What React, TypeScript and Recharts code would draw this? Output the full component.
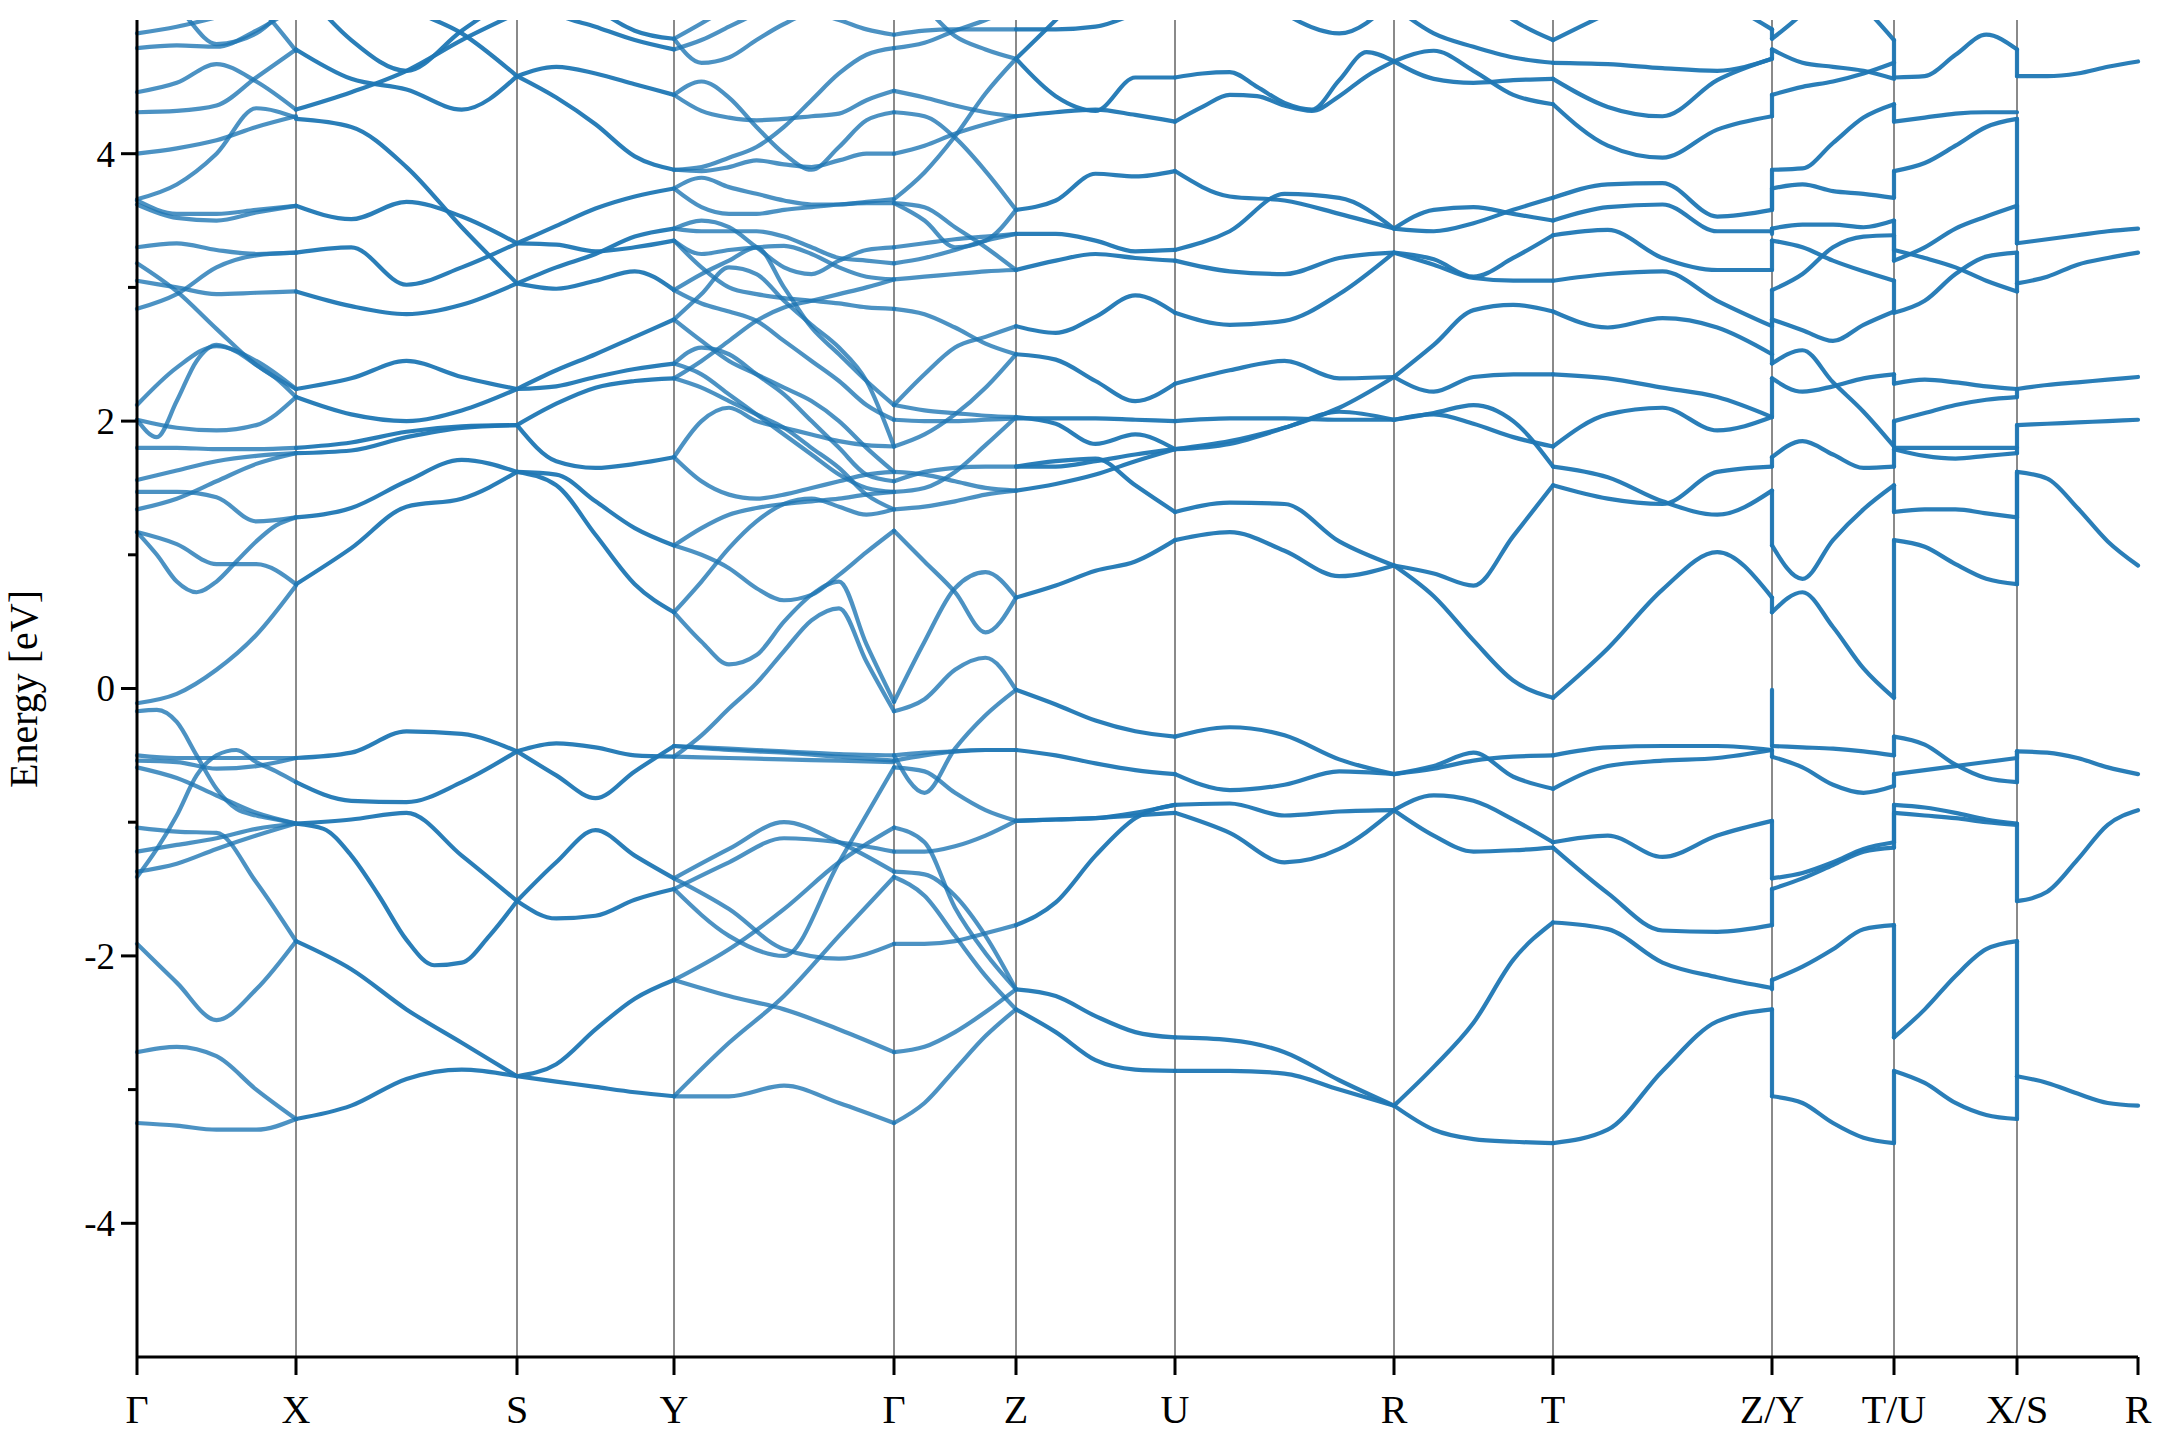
import React from 'react'
import { LineChart, Line, XAxis, YAxis, ReferenceLine } from 'recharts'

// distance along the k-path of every high-symmetry point
const kPoints = [0, 159, 380, 537, 757, 879, 1038, 1257, 1416, 1635, 1757, 1880, 2001]
const kLabels = ['Γ', 'X', 'S', 'Y', 'Γ', 'Z', 'U', 'R', 'T', 'Z/Y', 'T/U', 'X/S', 'R']
const energyTicks = [-4, -3, -2, -1, 0, 1, 2, 3, 4]

// each row: band energies (eV) at evenly spaced k between two labels
const gammaX = [
  [4.9, 4.95, 5.02, 5.1, 5.2],
  [4.79, 4.81, 4.8, 4.92, 5.1],
  [5.3, 5.1, 4.82, 4.9, 5.2],
  [5.6, 5.5, 5.35, 5.12, 4.77],
  [4.46, 4.53, 4.67, 4.54, 4.33],
  [4.31, 4.32, 4.36, 4.57, 4.78],
  [4.0, 4.04, 4.1, 4.2, 4.28],
  [3.66, 3.77, 4.0, 4.34, 4.27],
  [3.65, 3.55, 3.55, 3.58, 3.61],
  [3.62, 3.52, 3.5, 3.56, 3.61],
  [3.3, 3.33, 3.28, 3.25, 3.26],
  [3.18, 2.97, 2.69, 2.42, 2.24],
  [3.05, 3.0, 2.95, 2.96, 2.97],
  [2.84, 2.95, 3.15, 3.24, 3.26],
  [2.12, 2.4, 2.56, 2.45, 2.24],
  [2.01, 1.88, 2.15, 2.45, 2.57, 2.52, 2.42, 2.32, 2.18],
  [2.01, 1.95, 1.93, 1.97, 2.18],
  [1.8, 1.8, 1.79, 1.79, 1.8],
  [1.56, 1.63, 1.7, 1.74, 1.76],
  [1.47, 1.47, 1.43, 1.25, 1.28],
  [1.34, 1.42, 1.55, 1.68, 1.76],
  [1.17, 1.08, 0.93, 0.93, 0.78],
  [1.17, 1.0, 0.8, 0.72, 0.8, 0.95, 1.1, 1.22, 1.28],
  [-0.11, -0.04, 0.14, 0.4, 0.77],
  [-0.5, -0.52, -0.52, -0.52, -0.52],
  [-0.54, -0.55, -0.6, -0.58, -0.52],
  [-0.59, -0.67, -0.8, -0.93, -1.01],
  [-1.41, -1.2, -0.95, -0.65, -0.5, -0.46, -0.55, -0.62, -0.7],
  [-0.17, -0.16, -0.25, -0.5, -0.75, -0.9, -0.95, -0.98, -1.01],
  [-1.04, -1.07, -1.08, -1.45, -1.89],
  [-1.22, -1.17, -1.12, -1.05, -1.01],
  [-1.37, -1.31, -1.2, -1.1, -1.01],
  [-1.91, -2.2, -2.48, -2.25, -1.89],
  [-2.72, -2.68, -2.75, -3.0, -3.22],
  [-3.25, -3.27, -3.3, -3.3, -3.22],
]

const xS = [
  [4.78, 4.56, 4.48, 4.33, 4.58],
  [4.33, 4.46, 4.62, 4.85, 5.05],
  [5.3, 4.85, 4.62, 4.92, 5.2],
  [5.6, 5.4, 5.1, 4.9, 4.58],
  [4.26, 4.2, 3.9, 3.45, 3.03],
  [3.61, 3.51, 3.64, 3.53, 3.33],
  [3.26, 3.3, 3.02, 3.15, 3.33],
  [2.97, 2.86, 2.8, 2.87, 3.03],
  [2.24, 2.32, 2.45, 2.33, 2.24],
  [2.18, 2.05, 2.0, 2.08, 2.24],
  [1.8, 1.84, 1.92, 1.96, 1.97],
  [1.76, 1.78, 1.88, 1.95, 1.97],
  [1.28, 1.35, 1.55, 1.71, 1.62],
  [0.78, 1.05, 1.36, 1.42, 1.62],
  [-0.52, -0.48, -0.32, -0.34, -0.47],
  [-0.7, -0.84, -0.85, -0.7, -0.47],
  [-1.01, -1.05, -1.25, -1.55, -1.88, -2.07, -2.05, -1.85, -1.59],
  [-1.89, -2.1, -2.4, -2.65, -2.9],
  [-3.22, -3.12, -2.92, -2.85, -2.9],
  [-1.01, -0.98, -0.93, -1.25, -1.59],
]

const sY = [
  [4.58, 4.65, 4.6, 4.52, 4.44],
  [4.58, 4.42, 4.22, 3.98, 3.88],
  [5.3, 5.05, 4.95, 4.85, 4.78],
  [5.6, 5.4, 5.1, 4.92, 4.86],
  [3.33, 3.46, 3.59, 3.68, 3.74],
  [3.33, 3.32, 3.27, 3.3, 3.35],
  [3.03, 3.15, 3.25, 3.38, 3.44],
  [3.03, 2.99, 3.05, 3.12, 2.98],
  [2.24, 2.38, 2.5, 2.63, 2.76],
  [2.24, 2.26, 2.33, 2.39, 2.43],
  [1.97, 1.7, 1.65, 1.68, 1.73],
  [1.97, 2.13, 2.25, 2.3, 2.32],
  [1.62, 1.6, 1.4, 1.2, 1.07],
  [1.62, 1.52, 1.15, 0.78, 0.57],
  [-0.47, -0.41, -0.44, -0.5, -0.51],
  [-0.47, -0.65, -0.82, -0.62, -0.43],
  [-1.59, -1.3, -1.06, -1.25, -1.42],
  [-1.59, -1.72, -1.7, -1.58, -1.5],
  [-2.9, -2.81, -2.55, -2.32, -2.18],
  [-2.9, -2.94, -2.98, -3.02, -3.05],
]

const yGamma = [
  [4.86, 5.1, 5.4, 5.6, 5.8],
  [4.86, 4.68, 4.72, 4.85, 4.97, 5.05, 5.0, 4.93, 4.89],
  [4.78, 4.85, 4.95, 5.05, 5.15, 5.2, 5.2, 5.2, 5.2],
  [4.44, 4.54, 4.42, 4.2, 4.0, 3.88, 4.05, 4.25, 4.31],
  [4.44, 4.32, 4.27, 4.25, 4.26, 4.28, 4.3, 4.4, 4.47],
  [3.88, 3.9, 3.97, 4.05, 4.2, 4.4, 4.6, 4.74, 4.79],
  [3.88, 3.87, 3.9, 3.95, 3.92, 3.9, 3.95, 4.0, 4.0],
  [3.74, 3.82, 3.75, 3.7, 3.65, 3.62, 3.62, 3.64, 3.66],
  [3.74, 3.6, 3.55, 3.55, 3.58, 3.6, 3.62, 3.63, 3.63],
  [3.44, 3.42, 3.42, 3.42, 3.38, 3.3, 3.22, 3.2, 3.18],
  [3.44, 3.5, 3.45, 3.3, 3.15, 3.1, 3.2, 3.28, 3.3],
  [3.35, 3.25, 3.28, 3.3, 3.31, 3.25, 3.15, 3.08, 3.06],
  [3.35, 3.15, 3.0, 2.95, 2.92, 2.9, 2.88, 2.85, 2.84],
  [2.98, 3.1, 3.2, 3.3, 3.0, 2.7, 2.5, 2.3, 2.12],
  [2.98, 2.88, 2.82, 2.75, 2.6, 2.45, 2.3, 2.12, 2.01],
  [2.76, 2.95, 3.15, 3.1, 2.9, 2.72, 2.55, 2.3, 1.81],
  [2.76, 2.6, 2.45, 2.35, 2.25, 2.15, 2.0, 1.8, 1.62],
  [2.43, 2.55, 2.5, 2.35, 2.2, 2.0, 1.8, 1.6, 1.55],
  [2.43, 2.35, 2.2, 2.05, 1.9, 1.75, 1.6, 1.5, 1.47],
  [2.32, 2.25, 2.15, 2.05, 1.95, 1.8, 1.65, 1.45, 1.34],
  [2.32, 2.45, 2.6, 2.75, 2.85, 2.9, 2.95, 3.0, 3.06],
  [1.07, 1.2, 1.3, 1.35, 1.38, 1.4, 1.42, 1.45, 1.47],
  [1.07, 1.0, 0.9, 0.75, 0.66, 0.7, 0.85, 1.02, 1.18],
  [0.57, 0.8, 1.05, 1.25, 1.38, 1.42, 1.36, 1.3, 1.34],
  [1.73, 2.0, 2.1, 2.0, 1.95, 1.9, 1.85, 1.82, 1.81],
  [1.73, 1.55, 1.45, 1.42, 1.45, 1.5, 1.55, 1.6, 1.62],
  [0.57, 0.35, 0.18, 0.25, 0.5, 0.7, 0.8, 0.33, -0.1],
  [-0.51, -0.35, -0.15, 0.04, 0.28, 0.51, 0.6, 0.2, -0.17],
  [-0.43, -0.45, -0.47, -0.49, -0.5],
  [-0.43, -0.46, -0.48, -0.51, -0.54],
  [-0.51, -0.52, -0.53, -0.54, -0.55],
  [-1.42, -1.65, -1.95, -2.02, -1.91],
  [-1.5, -1.85, -2.0, -1.3, -0.59],
  [-1.42, -1.2, -1.0, -1.15, -1.37],
  [-1.5, -1.3, -1.12, -1.15, -1.22],
  [-2.18, -1.95, -1.65, -1.3, -1.04],
  [-2.18, -2.3, -2.4, -2.55, -2.72],
  [-3.05, -3.05, -2.97, -3.1, -3.25],
  [-3.05, -2.65, -2.3, -1.85, -1.41],
]

const gammaZ = [
  [4.89, 4.92, 4.93, 4.93, 4.93],
  [4.79, 4.83, 4.92, 5.0, 5.1],
  [5.3, 5.1, 4.88, 4.78, 4.71],
  [4.47, 4.42, 4.36, 4.31, 4.28],
  [4.31, 4.28, 4.12, 3.87, 3.58],
  [4.0, 4.06, 4.15, 4.22, 4.28],
  [3.66, 3.86, 4.13, 4.45, 4.71],
  [3.63, 3.6, 3.45, 3.3, 3.13],
  [3.63, 3.5, 3.3, 3.35, 3.58],
  [3.3, 3.33, 3.36, 3.38, 3.4],
  [3.18, 3.22, 3.28, 3.35, 3.4],
  [3.06, 3.08, 3.1, 3.12, 3.13],
  [2.84, 2.8, 2.7, 2.58, 2.5],
  [2.12, 2.35, 2.55, 2.63, 2.71],
  [2.12, 2.08, 2.06, 2.04, 2.03],
  [2.01, 2.0, 2.0, 2.01, 2.02],
  [1.81, 1.9, 2.05, 2.25, 2.5],
  [1.62, 1.6, 1.55, 1.5, 1.48],
  [1.55, 1.62, 1.65, 1.66, 1.66],
  [1.47, 1.5, 1.62, 1.82, 2.03],
  [1.34, 1.36, 1.4, 1.45, 1.48],
  [1.18, 0.95, 0.72, 0.42, 0.68],
  [-0.1, 0.35, 0.75, 0.87, 0.68],
  [-0.17, -0.08, 0.14, 0.23, -0.01],
  [-0.5, -0.48, -0.47, -0.46, -0.46],
  [-0.54, -0.5, -0.47, -0.46, -0.46],
  [-0.59, -0.62, -0.78, -0.91, -0.99],
  [-0.5, -0.78, -0.45, -0.2, -0.01],
  [-1.04, -1.15, -1.64, -1.98, -2.25],
  [-1.22, -1.22, -1.18, -1.1, -0.99],
  [-1.37, -1.39, -1.55, -1.85, -2.25],
  [-1.41, -1.55, -1.85, -2.15, -2.4],
  [-1.91, -1.91, -1.89, -1.83, -1.77],
  [-2.72, -2.68, -2.57, -2.42, -2.25],
  [-3.25, -3.1, -2.85, -2.6, -2.4],
]

const zU = [
  [4.93, 4.93, 4.95, 5.05, 5.2],
  [4.71, 5.0, 5.3, 5.5, 5.6],
  [4.71, 4.43, 4.32, 4.57, 4.57],
  [4.28, 4.31, 4.33, 4.29, 4.24],
  [3.58, 3.65, 3.85, 3.83, 3.87],
  [3.4, 3.4, 3.35, 3.27, 3.28],
  [3.13, 3.2, 3.25, 3.22, 3.2],
  [2.71, 2.66, 2.78, 2.94, 2.81],
  [2.5, 2.46, 2.3, 2.15, 2.28],
  [2.03, 1.98, 1.83, 1.9, 1.79],
  [2.02, 2.02, 2.02, 2.01, 2.0],
  [1.66, 1.66, 1.7, 1.75, 1.79],
  [1.48, 1.53, 1.6, 1.7, 1.79],
  [1.66, 1.7, 1.72, 1.52, 1.32],
  [0.68, 0.77, 0.88, 0.95, 1.11],
  [-0.01, -0.12, -0.24, -0.32, -0.36],
  [-0.46, -0.5, -0.56, -0.61, -0.64],
  [-0.99, -0.98, -0.97, -0.93, -0.87],
  [-0.99, -0.98, -0.97, -0.95, -0.93],
  [-1.77, -1.6, -1.25, -0.97, -0.87],
  [-2.25, -2.3, -2.45, -2.57, -2.61],
  [-2.4, -2.57, -2.78, -2.85, -2.86],
]

const uR = [
  [4.57, 4.6, 4.61, 4.5, 4.38, 4.33, 4.55, 4.76, 4.69],
  [4.24, 4.35, 4.44, 4.43, 4.36, 4.32, 4.43, 4.58, 4.69],
  [5.6, 5.4, 5.05, 4.9, 5.15],
  [3.87, 3.68, 3.65, 3.55, 3.44],
  [3.28, 3.42, 3.7, 3.67, 3.44],
  [3.2, 3.12, 3.1, 3.22, 3.26],
  [2.81, 2.72, 2.75, 2.95, 3.26],
  [2.28, 2.38, 2.45, 2.32, 2.33],
  [2.0, 2.02, 2.02, 2.01, 2.01],
  [1.79, 1.85, 1.95, 2.07, 2.01],
  [1.79, 1.83, 1.95, 2.1, 2.33],
  [1.32, 1.39, 1.38, 1.1, 0.92],
  [1.11, 1.17, 1.03, 0.84, 0.92],
  [-0.36, -0.29, -0.35, -0.53, -0.64],
  [-0.64, -0.76, -0.72, -0.62, -0.64],
  [-0.87, -0.86, -0.95, -0.92, -0.91],
  [-0.93, -1.08, -1.3, -1.2, -0.91],
  [-2.61, -2.63, -2.72, -2.93, -3.12],
  [-2.86, -2.86, -2.88, -3.0, -3.12],
]

const rT = [
  [5.1, 4.9, 4.8, 4.72, 4.68],
  [5.7, 5.5, 5.25, 5.0, 4.85],
  [4.69, 4.77, 4.62, 4.44, 4.37],
  [4.69, 4.56, 4.53, 4.55, 4.56],
  [3.44, 3.58, 3.6, 3.55, 3.5],
  [3.44, 3.42, 3.48, 3.58, 3.67],
  [3.26, 3.21, 3.08, 3.22, 3.39],
  [3.26, 3.17, 3.07, 3.05, 3.05],
  [2.33, 2.57, 2.83, 2.87, 2.82],
  [2.33, 2.22, 2.33, 2.35, 2.35],
  [2.01, 2.06, 2.12, 2.0, 1.66],
  [2.01, 2.05, 1.98, 1.88, 1.81],
  [0.92, 0.86, 0.77, 1.14, 1.52],
  [-0.64, -0.58, -0.48, -0.66, -0.75],
  [-0.64, -0.6, -0.54, -0.51, -0.5],
  [-0.91, -0.8, -0.84, -0.98, -1.15],
  [-0.91, -1.1, -1.22, -1.21, -1.19],
  [-3.12, -2.83, -2.5, -2.03, -1.75],
  [-3.12, -3.3, -3.37, -3.39, -3.4],
  [0.92, 0.69, 0.36, 0.06, -0.07],
]

const tZ = [
  [4.85, 5.05, 5.25, 5.15, 4.93],
  [4.68, 4.67, 4.64, 4.62, 4.71],
  [4.56, 4.35, 4.28, 4.55, 4.71],
  [4.37, 4.06, 3.97, 4.18, 4.28],
  [3.67, 3.77, 3.78, 3.53, 3.58],
  [3.5, 3.6, 3.62, 3.42, 3.42],
  [3.39, 3.43, 3.22, 3.13, 3.13],
  [3.05, 3.1, 3.12, 2.9, 2.71],
  [2.82, 2.7, 2.77, 2.7, 2.5],
  [2.35, 2.32, 2.25, 2.18, 2.03],
  [1.81, 2.05, 2.1, 1.93, 2.03],
  [1.66, 1.58, 1.4, 1.3, 1.48],
  [1.52, 1.42, 1.38, 1.62, 1.66],
  [-0.07, 0.3, 0.74, 1.02, 0.68],
  [-0.5, -0.44, -0.43, -0.43, -0.46],
  [-0.75, -0.58, -0.54, -0.52, -0.46],
  [-1.15, -1.1, -1.26, -1.1, -0.99],
  [-1.19, -1.53, -1.81, -1.82, -1.77],
  [-1.75, -1.8, -2.05, -2.16, -2.24],
  [-3.4, -3.3, -2.86, -2.49, -2.4],
]

const yT = [
  [4.78, 4.68, 4.65, 4.62, 4.56],
  [4.44, 4.5, 4.54, 4.6, 4.68],
  [4.86, 5.05, 5.3, 5.1, 4.85],
  [3.88, 3.89, 4.08, 4.27, 4.37],
  [3.74, 3.77, 3.72, 3.7, 3.67],
  [3.44, 3.47, 3.47, 3.45, 3.5],
  [3.35, 3.3, 3.2, 3.12, 3.05],
  [2.98, 3.1, 3.3, 3.38, 3.39],
  [2.76, 2.68, 2.6, 2.72, 2.82],
  [2.43, 2.53, 2.29, 2.07, 1.81],
  [2.32, 2.22, 2.26, 2.32, 2.35],
  [1.73, 1.85, 1.75, 1.65, 1.66],
  [1.07, 0.82, 1.11, 1.34, 1.52],
  [0.57, 0.72, 0.46, 0.15, -0.07],
  [-0.43, -0.44, -0.45, -0.47, -0.5],
  [-0.51, -0.59, -0.72, -0.78, -0.73],
  [-1.42, -1.38, -1.3, -1.2, -1.15],
  [-1.5, -1.42, -1.32, -1.22, -1.19],
  [-2.18, -2.08, -1.95, -1.8, -1.77],
  [-3.05, -3.1, -3.25, -3.36, -3.4],
]

const uX = [
  [4.57, 4.58, 4.74, 4.89, 4.78],
  [4.24, 4.27, 4.3, 4.31, 4.31],
  [3.87, 3.93, 4.06, 4.2, 4.26],
  [3.2, 3.3, 3.44, 3.53, 3.61],
  [3.28, 3.22, 3.15, 3.05, 2.97],
  [2.81, 2.9, 3.1, 3.23, 3.26],
  [2.28, 2.31, 2.29, 2.26, 2.24],
  [2.0, 2.06, 2.12, 2.16, 2.18],
  [1.79, 1.74, 1.72, 1.74, 1.76],
  [1.8, 1.8, 1.8, 1.8, 1.8],
  [1.32, 1.34, 1.34, 1.31, 1.28],
  [1.11, 1.06, 0.93, 0.82, 0.78],
  [-0.36, -0.42, -0.57, -0.67, -0.7],
  [-0.64, -0.61, -0.58, -0.55, -0.52],
  [-0.87, -0.89, -0.93, -0.98, -1.01],
  [-0.93, -0.95, -0.97, -1.0, -1.02],
  [-2.61, -2.4, -2.15, -1.95, -1.89],
  [-2.86, -2.95, -3.1, -3.19, -3.22],
]

const sR = [
  [4.58, 4.58, 4.6, 4.65, 4.69],
  [3.33, 3.36, 3.39, 3.42, 3.44],
  [3.03, 3.08, 3.17, 3.22, 3.26],
  [2.24, 2.27, 2.29, 2.31, 2.33],
  [1.97, 1.98, 1.99, 2.0, 2.01],
  [1.62, 1.57, 1.35, 1.1, 0.92],
  [-0.47, -0.48, -0.52, -0.59, -0.64],
  [-1.59, -1.52, -1.28, -1.02, -0.91],
  [-2.9, -2.95, -3.03, -3.1, -3.12],
]

// band ends joined by a vertical step where the path breaks
const jumpZY = [
  [4.93, 4.86], [4.71, 4.78], [4.28, 4.44], [3.58, 3.88], [3.58, 3.74], [3.4, 3.44],
  [3.13, 3.35], [2.71, 2.98], [2.5, 2.76], [2.5, 2.43], [2.03, 2.32], [1.66, 1.73],
  [1.48, 1.07], [0.68, 0.57], [-0.01, -0.43], [-0.46, -0.51], [-0.99, -1.42],
  [-1.77, -1.5], [-2.25, -2.18], [-2.4, -3.05],
]
const jumpTU = [
  [4.85, 4.68], [4.68, 4.57], [4.37, 4.24], [3.67, 3.87], [3.5, 3.28], [3.39, 3.2],
  [3.05, 2.81], [2.35, 2.28], [1.81, 2.0], [1.66, 1.79], [1.52, 1.32], [-0.07, 1.11],
  [-0.5, -0.36], [-0.73, -0.64], [-1.15, -0.87], [-1.19, -0.93], [-1.77, -2.61], [-3.4, -2.86],
]
const jumpXS = [
  [4.78, 4.58], [4.26, 3.33], [3.61, 3.33], [3.26, 3.03], [2.97, 3.03], [2.18, 2.24],
  [1.76, 1.97], [1.28, 1.62], [0.78, 1.62], [-0.52, -0.47], [-0.7, -0.47], [-1.01, -1.59],
  [-1.89, -2.9], [-3.22, -2.9],
]

const segments = [gammaX, xS, sY, yGamma, gammaZ, zU, uR, rT, tZ, yT, uX, sR]
const lightSegments = [0, 3, 4]
const jumps: [number, number[][]][] = [
  [kPoints[9], jumpZY],
  [kPoints[10], jumpTU],
  [kPoints[11], jumpXS],
]

type Pt = { k: number; e: number }
type Series = { pts: Pt[]; light: boolean; step: boolean }

const series: Series[] = []
segments.forEach((strands, i) => {
  const k0 = kPoints[i]
  const k1 = kPoints[i + 1]
  strands.forEach((vals) => {
    const n = vals.length
    series.push({
      pts: vals.map((e, j) => ({ k: k0 + (j * (k1 - k0)) / (n - 1), e })),
      light: lightSegments.includes(i),
      step: false,
    })
  })
})
jumps.forEach(([k, pairs]) => {
  pairs.forEach(([a, b]) => {
    series.push({ pts: [{ k, e: a }, { k, e: b }], light: false, step: true })
  })
})

const serif = "'Liberation Serif', 'Times New Roman', serif"

function EnergyTick({ x, y, payload }: any) {
  const v = payload.value
  const major = v % 2 === 0
  return (
    <g>
      <line x1={x - (major ? 16 : 9)} x2={x} y1={y} y2={y} stroke="#000" strokeWidth={3} />
      {major && (
        <text x={x - 22} y={y} dy="0.35em" textAnchor="end" fontSize={37} fontFamily={serif} fill="#000">
          {v}
        </text>
      )}
    </g>
  )
}

function KTick({ x, y, payload }: any) {
  const idx = kPoints.indexOf(payload.value)
  return (
    <g>
      <line x1={x} x2={x} y1={y} y2={y + 18} stroke="#000" strokeWidth={3} />
      <text x={x} y={y + 66} textAnchor="middle" fontSize={40} fontFamily={serif} fill="#000">
        {kLabels[idx]}
      </text>
    </g>
  )
}

export default function App() {
  return (
    <div style={{ position: 'absolute', left: 0, top: 0, width: 2160, height: 1440, background: '#fff' }}>
      <LineChart width={2160} height={1440} margin={{ top: 20, right: 22, bottom: 0, left: 0 }}>
        <XAxis
          dataKey="k"
          type="number"
          domain={[0, 2001]}
          ticks={kPoints}
          interval={0}
          height={83}
          tickSize={0}
          tickMargin={0}
          tick={<KTick />}
          axisLine={{ stroke: '#000', strokeWidth: 3 }}
        />
        <XAxis
          xAxisId="top"
          orientation="top"
          type="number"
          domain={[0, 2001]}
          height={0}
          tick={false}
          tickLine={false}
          axisLine={{ stroke: '#000', strokeWidth: 3 }}
        />
        <YAxis
          type="number"
          domain={[-5, 5]}
          ticks={energyTicks}
          interval={0}
          width={137}
          tickSize={0}
          tickMargin={0}
          tick={<EnergyTick />}
          allowDataOverflow
          axisLine={{ stroke: '#000', strokeWidth: 3 }}
        />
        <YAxis
          yAxisId="right"
          orientation="right"
          type="number"
          domain={[-5, 5]}
          width={0}
          tick={false}
          tickLine={false}
          axisLine={{ stroke: '#000', strokeWidth: 3 }}
        />
        {kPoints.slice(1, -1).map((k) => (
          <ReferenceLine key={'v' + k} x={k} stroke="#8a8a8a" strokeWidth={2} />
        ))}
        {series.map((s, i) => (
          <Line
            key={i}
            data={s.pts}
            dataKey="e"
            type={s.step ? 'linear' : 'monotone'}
            stroke="#1f77b4"
            strokeOpacity={s.light ? 0.8 : 0.95}
            strokeWidth={4.2}
            strokeLinecap="round"
            dot={false}
            activeDot={false}
            isAnimationActive={false}
          />
        ))}
      </LineChart>
      <div
        style={{
          position: 'absolute',
          left: 23,
          top: 689,
          transform: 'translate(-50%, -50%) rotate(-90deg)',
          fontFamily: serif,
          fontSize: 40,
          whiteSpace: 'nowrap',
          color: '#000',
        }}
      >
        Energy [eV]
      </div>
    </div>
  )
}
